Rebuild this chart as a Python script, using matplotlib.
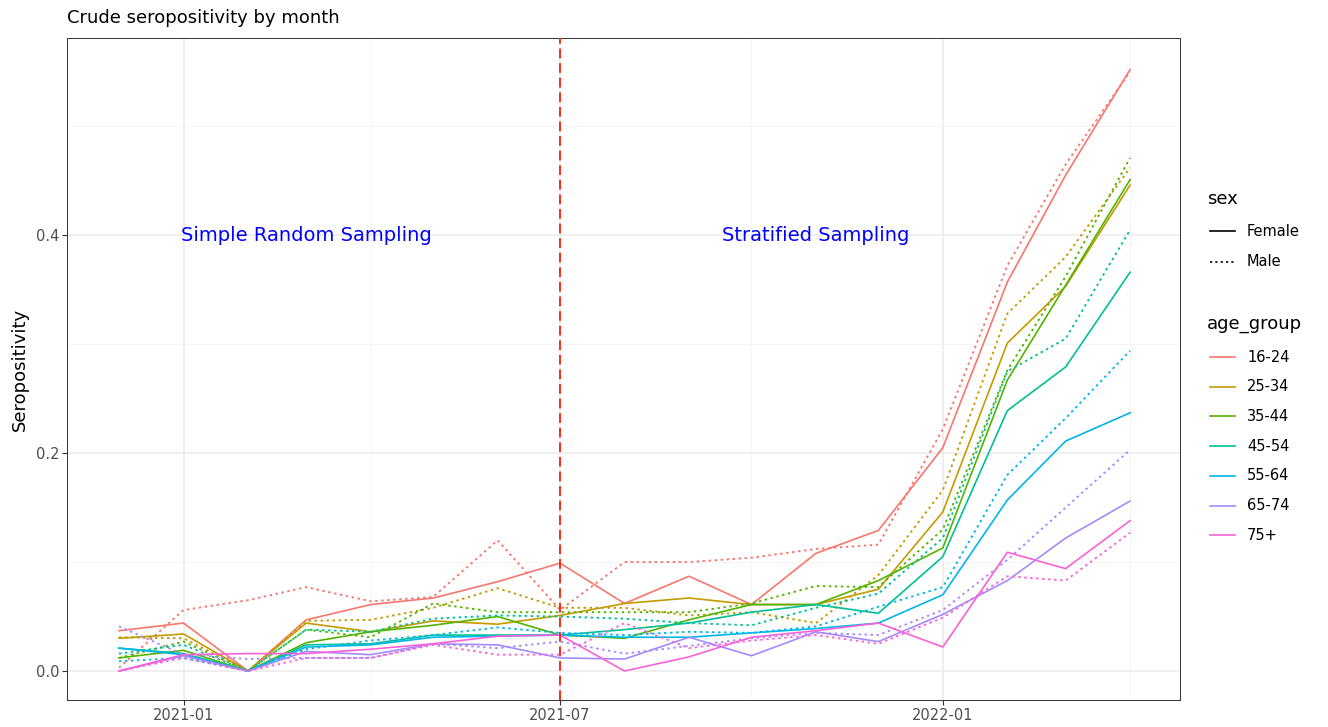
import matplotlib
matplotlib.use("Agg")
import matplotlib.pyplot as plt
import matplotlib.dates as mdates
from matplotlib.lines import Line2D
import pandas as pd

# Monthly seropositivity, Dec 2020 .. Apr 2022
months = pd.date_range("2020-12-01", periods=17, freq="MS")
age_groups = ["16-24", "25-34", "35-44", "45-54", "55-64", "65-74", "75+"]
sexes = ["Female", "Male"]

f_16_24 = [0.037, 0.044, 0.000, 0.047, 0.061, 0.067, 0.082, 0.099, 0.062, 0.087, 0.061, 0.108, 0.129, 0.205, 0.357, 0.455, 0.552]
m_16_24 = [0.003, 0.056, 0.065, 0.077, 0.064, 0.068, 0.120, 0.056, 0.100, 0.100, 0.104, 0.112, 0.116, 0.222, 0.372, 0.465, 0.550]
f_25_34 = [0.030, 0.034, 0.000, 0.044, 0.036, 0.046, 0.043, 0.051, 0.062, 0.067, 0.061, 0.061, 0.075, 0.146, 0.301, 0.353, 0.446]
m_25_34 = [0.031, 0.030, 0.000, 0.046, 0.047, 0.058, 0.076, 0.058, 0.058, 0.051, 0.054, 0.044, 0.088, 0.166, 0.328, 0.380, 0.462]
f_35_44 = [0.012, 0.019, 0.000, 0.026, 0.036, 0.042, 0.050, 0.033, 0.030, 0.047, 0.061, 0.061, 0.083, 0.113, 0.267, 0.354, 0.451]
m_35_44 = [0.012, 0.027, 0.000, 0.038, 0.031, 0.062, 0.054, 0.054, 0.054, 0.054, 0.062, 0.078, 0.077, 0.130, 0.276, 0.362, 0.471]
f_45_54 = [0.021, 0.016, 0.000, 0.024, 0.025, 0.033, 0.033, 0.033, 0.038, 0.044, 0.054, 0.061, 0.053, 0.105, 0.239, 0.279, 0.366]
m_45_54 = [0.016, 0.024, 0.000, 0.038, 0.036, 0.048, 0.051, 0.050, 0.048, 0.044, 0.042, 0.058, 0.071, 0.122, 0.275, 0.305, 0.405]
f_55_64 = [0.021, 0.015, 0.000, 0.022, 0.024, 0.031, 0.032, 0.033, 0.031, 0.031, 0.035, 0.039, 0.044, 0.070, 0.157, 0.211, 0.237]
m_55_64 = [0.009, 0.012, 0.000, 0.020, 0.028, 0.033, 0.040, 0.035, 0.033, 0.036, 0.035, 0.041, 0.059, 0.077, 0.180, 0.232, 0.294]
f_65_74 = [0.000, 0.014, 0.000, 0.018, 0.015, 0.025, 0.024, 0.012, 0.011, 0.031, 0.014, 0.036, 0.027, 0.052, 0.083, 0.122, 0.156]
m_65_74 = [0.041, 0.015, 0.011, 0.012, 0.012, 0.025, 0.021, 0.027, 0.016, 0.023, 0.030, 0.035, 0.033, 0.056, 0.102, 0.150, 0.203]
f_75p = [0.000, 0.015, 0.016, 0.016, 0.020, 0.025, 0.032, 0.033, 0.000, 0.013, 0.031, 0.037, 0.044, 0.022, 0.109, 0.094, 0.138]
m_75p = [0.000, 0.012, 0.000, 0.012, 0.012, 0.024, 0.015, 0.015, 0.044, 0.021, 0.028, 0.033, 0.025, 0.049, 0.087, 0.083, 0.127]

female = [f_16_24, f_25_34, f_35_44, f_45_54, f_55_64, f_65_74, f_75p]
male = [m_16_24, m_25_34, m_35_44, m_45_54, m_55_64, m_65_74, m_75p]

colors = ["#F8766D", "#C49A00", "#53B400", "#00C094", "#00B6EB", "#A58AFF", "#FB61D7"]
styles = {"Female": "-", "Male": (0, (1.3, 1.9))}

split_date = pd.Timestamp("2021-07-01")

W, H = 1328, 727
fig = plt.figure(figsize=(W / 100, H / 100), dpi=100)
ax = fig.add_axes([67 / W, 27 / H, (1180 - 67) / W, (700 - 38) / H])

for i, grp in enumerate(age_groups):
    ax.plot(months, female[i], color=colors[i], linestyle=styles["Female"], lw=1.2, zorder=3)
    ax.plot(months, male[i], color=colors[i], linestyle=styles["Male"], lw=1.35, zorder=3)

ax.axvline(split_date, color="#FF2A1A", linestyle=(0, (5, 2.5)), lw=1.4, zorder=4)

ax.text(pd.Timestamp("2021-03-01"), 0.4, "Simple Random Sampling", color="#0000FF",
        fontsize=14, ha="center", va="center", fontweight="medium")
ax.text(pd.Timestamp("2021-11-01"), 0.4, "Stratified Sampling", color="#0000FF",
        fontsize=14, ha="center", va="center", fontweight="medium")

ax.set_xlim(pd.Timestamp("2020-11-06"), pd.Timestamp("2022-04-25"))
ax.set_ylim(-0.0266, 0.581)

ax.xaxis.set_major_locator(mdates.MonthLocator(bymonth=[1, 7]))
ax.xaxis.set_minor_locator(mdates.MonthLocator(bymonth=[4, 10]))
ax.xaxis.set_major_formatter(mdates.DateFormatter("%Y-%m"))
ax.set_yticks([0.0, 0.2, 0.4])
ax.set_yticks([0.1, 0.3, 0.5], minor=True)
ax.set_yticklabels(["0.0", "0.2", "0.4"])

ax.grid(which="major", color="#EBEBEB", lw=1.1, zorder=0)
ax.grid(which="minor", color="#F2F2F2", lw=0.6, zorder=0)
ax.set_axisbelow(True)
ax.tick_params(which="major", length=3.5, width=0.8, color="#333333",
               labelsize=10.5, labelcolor="#4D4D4D", pad=2)
ax.tick_params(which="minor", length=0)
for s in ax.spines.values():
    s.set_color("#333333")
    s.set_linewidth(0.7)

ax.set_ylabel("Seropositivity", fontsize=13, labelpad=5)
ax.set_xlabel("")
fig.text(67 / W, 1 - 18 / H, "Crude seropositivity by month", fontsize=13,
         ha="left", va="center")


# Legend drawn in figure pixel coordinates (origin top-left)
def fx(px):
    return px / W


def fy(py):
    return 1 - py / H


def legend_key(y, color, style, label):
    fig.add_artist(Line2D([fx(1210), fx(1235)], [fy(y), fy(y)], color=color,
                          linestyle=style, lw=1.2, transform=fig.transFigure))
    fig.text(fx(1247), fy(y), label, fontsize=10.5, ha="left", va="center")


fig.text(fx(1207), fy(199), "sex", fontsize=13, ha="left", va="center")
for k, s in enumerate(sexes):
    legend_key(231 + 31 * k, "black", styles[s], s)

fig.text(fx(1207), fy(324), "age_group", fontsize=13, ha="left", va="center")
for k, grp in enumerate(age_groups):
    legend_key(357 + 29.7 * k, colors[k], "-", grp)

fig.savefig("out.png", dpi=100)
